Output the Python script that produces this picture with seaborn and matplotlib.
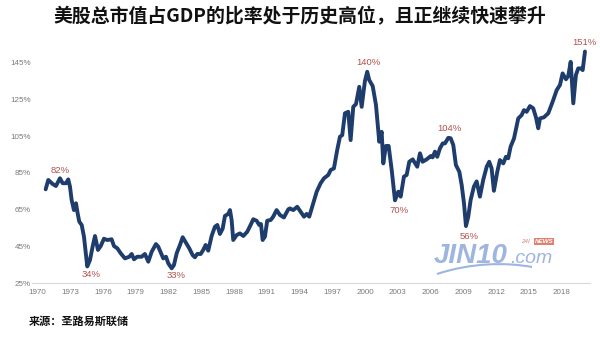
import matplotlib
matplotlib.use("Agg")
import matplotlib.pyplot as plt
from matplotlib.path import Path
from matplotlib.patches import PathPatch
import numpy as np
import pandas as pd
import seaborn as sns

# US total market cap as a share of GDP (%), by decimal year
years = [
    1970.75, 1970.99, 1971.39, 1971.69, 1972.06, 1972.31, 1972.61, 1972.82, 1972.98,
    1973.13, 1973.34, 1973.53, 1973.68, 1973.83, 1974.05, 1974.26, 1974.56, 1974.81,
    1975.05, 1975.27, 1975.54, 1975.79, 1976.09, 1976.39, 1976.79, 1977.01, 1977.31,
    1977.62, 1978.01, 1978.41, 1978.63, 1978.84, 1979.14, 1979.54, 1979.84, 1980.15,
    1980.46, 1980.85, 1981.06, 1981.52, 1981.77, 1981.98, 1982.29, 1982.50, 1982.75,
    1983.05, 1983.30, 1983.60, 1983.90, 1984.21, 1984.42, 1984.63, 1984.95, 1985.18,
    1985.40, 1985.64, 1985.95, 1986.25, 1986.47, 1986.71, 1986.96, 1987.17, 1987.47,
    1987.63, 1987.78, 1987.93, 1988.24, 1988.54, 1988.85, 1989.21, 1989.52, 1989.76,
    1990.07, 1990.31, 1990.47, 1990.62, 1990.83, 1991.04, 1991.36, 1991.59, 1991.90,
    1992.21, 1992.57, 1992.97, 1993.12, 1993.43, 1993.79, 1994.10, 1994.41, 1994.65,
    1994.89, 1995.26, 1995.57, 1995.93, 1996.24, 1996.63, 1996.85, 1997.15, 1997.45,
    1997.70, 1997.91, 1998.16, 1998.46, 1998.68, 1998.92, 1999.17, 1999.47, 1999.69,
    1999.99, 2000.20, 2000.38, 2000.70, 2001.00, 2001.30, 2001.52, 2001.67, 2001.91,
    2002.16, 2002.44, 2002.74, 2003.04, 2003.26, 2003.56, 2003.81, 2004.05, 2004.36,
    2004.78, 2005.03, 2005.27, 2005.64, 2006.01, 2006.19, 2006.40, 2006.61, 2006.86,
    2007.11, 2007.32, 2007.62, 2007.84, 2008.08, 2008.32, 2008.63, 2008.85, 2009.06,
    2009.24, 2009.45, 2009.67, 2009.97, 2010.22, 2010.52, 2010.82, 2011.14, 2011.37,
    2011.59, 2011.80, 2012.11, 2012.35, 2012.66, 2012.90, 2013.11, 2013.33, 2013.64,
    2014.03, 2014.34, 2014.55, 2014.80, 2015.10, 2015.40, 2015.65, 2015.86, 2016.02,
    2016.38, 2016.78, 2017.18, 2017.55, 2017.85, 2018.09, 2018.40, 2018.61, 2018.83,
    2019.07, 2019.31, 2019.52, 2019.77, 2019.93, 2020.14,
]
ratio = [
    76.0, 81.1, 78.9, 77.8, 82.0, 79.3, 79.3, 81.4, 77.4,
    70.2, 64.7, 68.4, 62.9, 58.4, 56.6, 50.2, 34.0, 37.5,
    44.8, 50.6, 43.0, 45.1, 49.1, 48.4, 48.8, 45.1, 43.9,
    41.2, 38.4, 39.3, 40.8, 37.9, 39.3, 39.3, 40.8, 36.6,
    42.0, 46.2, 44.8, 38.4, 39.3, 35.7, 33.0, 34.8, 41.2,
    45.7, 49.9, 46.9, 43.9, 40.2, 39.0, 40.8, 40.8, 43.0,
    45.7, 42.6, 50.6, 55.6, 56.6, 51.7, 54.6, 61.5, 62.6,
    64.7, 59.3, 48.4, 51.1, 52.0, 50.6, 52.9, 56.6, 59.7,
    58.9, 56.6, 57.1, 48.4, 50.2, 58.9, 59.3, 61.1, 64.7,
    62.0, 60.7, 65.1, 65.6, 64.7, 66.5, 63.8, 61.1, 62.6,
    61.1, 68.4, 74.7, 79.3, 82.0, 83.8, 86.5, 87.4, 97.4,
    104.6, 105.5, 117.4, 118.2, 102.8, 120.9, 122.4, 131.8, 120.9,
    135.0, 140.0, 135.5, 132.2, 121.9, 101.9, 107.3, 90.1, 99.6,
    99.6, 86.5, 70.0, 74.7, 72.0, 82.9, 83.8, 91.0, 92.3,
    88.3, 95.6, 91.0, 92.3, 94.1, 93.4, 96.5, 93.7, 98.3,
    101.0, 101.0, 104.0, 103.8, 100.1, 89.2, 85.6, 78.3, 68.4,
    56.0, 61.1, 70.2, 77.5, 80.3, 72.0, 81.1, 88.3, 91.0,
    87.4, 75.2, 85.6, 91.9, 90.1, 93.7, 92.9, 99.2, 103.7,
    114.6, 116.4, 119.1, 118.2, 121.3, 120.1, 115.2, 109.2, 114.6,
    115.2, 117.4, 123.7, 130.0, 132.8, 139.1, 135.9, 137.7, 145.4,
    122.8, 138.2, 141.8, 141.8, 140.9, 151.0,
]

# Highlighted turning points: (year, label offset in points)
marked_years = [1972.06, 1974.56, 1982.29, 2000.20, 2002.74, 2007.62, 2009.24, 2020.14]
marked_offsets = [(0, 5.5), (2.5, -5.5), (3.5, -5.5), (0.5, 6.5),
                  (3, -7), (0.5, 6.5), (2.5, -7.5), (-0.5, 6.5)]

year_ticks = list(range(1970, 2019, 3))
pct_ticks = [25, 45, 65, 85, 105, 125, 145]

title = "美股总市值占GDP的比率处于历史高位，且正继续快速攀升"
source = "来源：圣路易斯联储"

line_color = "#1e3d6c"
label_color = "#b3514d"
tick_color = "#7a7a7a"

sns.set_style("white")
plt.rcParams["font.family"] = ["Liberation Sans", "DejaVu Sans"]

df = pd.DataFrame({"year": years, "ratio": ratio})

fig = plt.figure(figsize=(6, 3.4), dpi=100)
ax = fig.add_axes([32 / 600, 57 / 340, 558 / 600, 248 / 340])

sns.lineplot(data=df, x="year", y="ratio", ax=ax, color=line_color,
             linewidth=2.8, solid_joinstyle="round", solid_capstyle="round")

ax.set_xlim(1969.5, 2020.6)
ax.set_ylim(25, 160)
ax.set_xticks(year_ticks)
ax.set_xticklabels([str(y) for y in year_ticks])
ax.set_yticks(pct_ticks)
ax.set_yticklabels([f"{p}%" for p in pct_ticks])
ax.tick_params(axis="both", length=0, labelsize=5.8, colors=tick_color)
ax.tick_params(axis="x", pad=4.5)
ax.tick_params(axis="y", pad=1)
ax.set_xlabel("")
ax.set_ylabel("")
for side in ["top", "right", "left"]:
    ax.spines[side].set_visible(False)
ax.spines["bottom"].set_color("#d9d9d9")
ax.spines["bottom"].set_linewidth(0.8)
ax.grid(False)

for yr, (dx, dy) in zip(marked_years, marked_offsets):
    val = df.loc[df["year"] == yr, "ratio"].iloc[0]
    ax.annotate(f"{val:.0f}%", xy=(yr, val), xytext=(dx, dy),
                textcoords="offset points", ha="center", va="center",
                fontsize=6.8, color=label_color, annotation_clip=False)

fig.text(0.5, 1 - 17 / 340, title, ha="center", va="center", fontsize=13.6,
         fontweight="bold", family=["Noto Sans CJK SC", "DejaVu Sans"], color="#111111")
fig.text(29 / 600, 1 - 321 / 340, source, ha="left", va="center", fontsize=8,
         fontweight="bold", family=["Noto Sans CJK SC", "DejaVu Sans"], color="#111111")

# JIN10 watermark
wm_blue = "#86a3d9"
fig.text(434 / 600, 1 - 263 / 340, "JIN10", ha="left", va="baseline", fontsize=20,
         fontweight="bold", style="italic", color=wm_blue, alpha=0.8)
fig.text(510 / 600, 1 - 263 / 340, ".com", ha="left", va="baseline", fontsize=14,
         style="italic", color=wm_blue, alpha=0.8)
fig.text(521 / 600, 1 - 243 / 340, "24I", ha="left", va="baseline", fontsize=4.5,
         style="italic", color="#e0816f")
fig.text(535 / 600, 1 - 243 / 340, "NEWS", ha="left", va="baseline", fontsize=4.5,
         fontweight="bold", style="italic", color="white",
         bbox=dict(boxstyle="square,pad=0.1", fc="#e0816f", ec="none"))
swoosh = Path([(437 / 600, 1 - 274 / 340), (470 / 600, 1 - 263 / 340),
               (505 / 600, 1 - 262 / 340), (532 / 600, 1 - 267 / 340)],
              [Path.MOVETO, Path.CURVE4, Path.CURVE4, Path.CURVE4])
fig.add_artist(PathPatch(swoosh, transform=fig.transFigure, fc="none",
                         ec=wm_blue, lw=1.5, alpha=0.8))

fig.savefig("out.png", dpi=100)
